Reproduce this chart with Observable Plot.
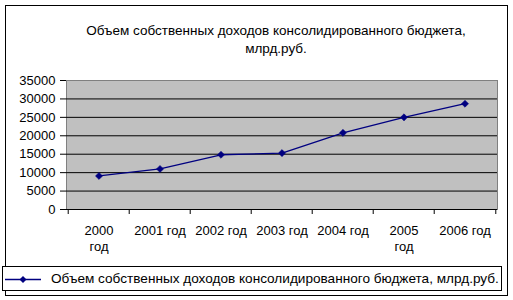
<!DOCTYPE html>
<html><head><meta charset="utf-8">
<script src="https://cdn.jsdelivr.net/npm/d3@7"></script>
<script src="https://cdn.jsdelivr.net/npm/@observablehq/plot@0.6"></script>
<style>
body{margin:0;background:#fff;font-family:"Liberation Sans",Arial,sans-serif;color:#000;}
#wrap{position:relative;width:513px;height:300px;overflow:hidden;background:#fff;}
#chart{position:absolute;left:0;top:0;}
#border{position:absolute;left:5px;top:5px;width:503px;height:291px;border:1px solid #000;box-sizing:border-box;}
#title{position:absolute;left:26px;top:22px;width:500px;text-align:center;font-size:13.5px;line-height:18px;}
#legend{position:absolute;left:2px;top:266px;width:500px;height:25px;border:1px solid #000;box-sizing:border-box;background:#fff;display:flex;align-items:center;font-size:13.6px;white-space:nowrap;}
#legend svg{margin-left:2px;}
#legend span{margin-left:8px;}
</style>
</head><body>
<div id="wrap"><div id="chart"></div><div id="border"></div><div id="title"></div><div id="legend"></div></div>
<script>
const titleLines = ["Объем собственных доходов консолидированного бюджета,", "млрд.руб."];
const seriesName = "Объем собственных доходов консолидированного бюджета, млрд.руб.";
const categories = ["2000 год","2001 год","2002 год","2003 год","2004 год","2005 год","2006 год"];
const tickLabels = ["2000\nгод","2001 год","2002 год","2003 год","2004 год","2005\nгод","2006 год"];
const values = [9100, 11000, 14850, 15300, 20800, 25000, 28700];
const yTicks = [0,5000,10000,15000,20000,25000,30000,35000];

const data = categories.map((c,i)=>({cat:c, label:tickLabels[i], value:values[i]}));
const W=513, H=300, mt=80, mb=91, ml=66, mr=16;
const bw = (W-ml-mr)/categories.length;
const plotH = H-mt-mb;
const navy = "#000080";

const chart = Plot.plot({
  width:W, height:H, marginTop:mt, marginBottom:mb, marginLeft:ml, marginRight:mr,
  style:{fontFamily:'"Liberation Sans",Arial,sans-serif', fontSize:"13px", color:"#000", background:"transparent"},
  x:{type:"band", domain:categories, padding:0, axis:null},
  y:{domain:[0,35000], ticks:yTicks, tickSize:6, tickPadding:5, tickFormat:d=>String(d), label:null, line:true},
  marks:[
    Plot.frame({fill:"#c0c0c0", stroke:"#808080"}),
    Plot.ruleY(yTicks.slice(1,-1), {stroke:"#000"}),
    Plot.ruleY([0], {stroke:"#000"}),
    Plot.ruleX(categories, {x:d=>d, dx:-bw/2, insetTop:plotH, insetBottom:-5, stroke:"#000"}),
    Plot.ruleX(categories.slice(-1), {x:d=>d, dx:bw/2, insetTop:plotH, insetBottom:-5, stroke:"#000"}),
    Plot.line(data, {x:"cat", y:"value", stroke:navy, strokeWidth:1.3}),
    Plot.dot(data, {x:"cat", y:"value", symbol:"diamond2", r:3.2, fill:navy, stroke:navy, strokeWidth:0.5}),
    Plot.text(data, {x:"cat", text:"label", frameAnchor:"bottom", lineAnchor:"top", dy:15, lineHeight:1.18, fontSize:13, fill:"#000"})
  ]
});
document.getElementById("chart").appendChild(chart);

document.getElementById("title").innerHTML = titleLines.map(s=>`<div>${s}</div>`).join("");

const lg = document.getElementById("legend");
const sw = d3.create("svg").attr("width",38).attr("height",12);
sw.append("line").attr("x1",0).attr("x2",36).attr("y1",6.5).attr("y2",6.5).attr("stroke",navy).attr("stroke-width",1.3);
sw.append("path").attr("transform","translate(18,6.5)").attr("d", d3.symbol(d3.symbolDiamond2, 32)()).attr("fill",navy);
lg.appendChild(sw.node());
const sp = document.createElement("span"); sp.textContent = seriesName; lg.appendChild(sp);
</script>
</body></html>
